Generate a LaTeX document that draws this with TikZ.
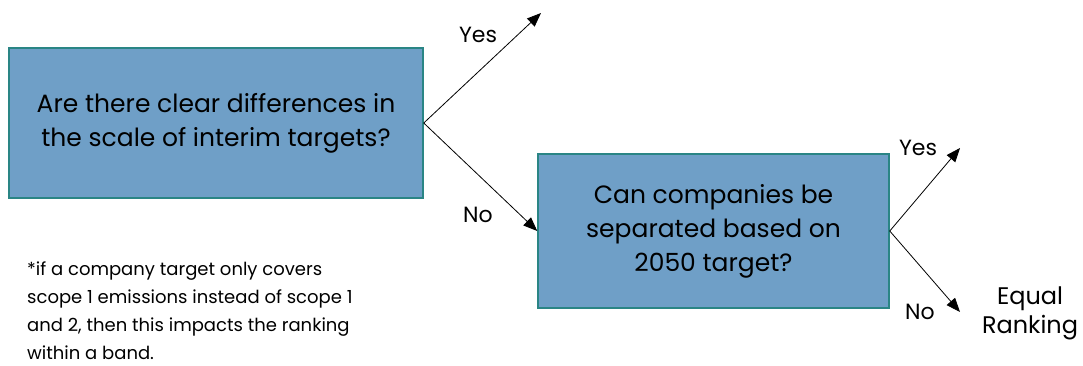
\documentclass[tikz,border=0pt]{standalone}
\usepackage{fontspec}
\setmainfont{Poppins}
\usetikzlibrary{arrows.meta,positioning}
\definecolor{boxfill}{HTML}{6F9FC7}
\definecolor{boxline}{HTML}{2A8585}

\begin{document}
\begin{tikzpicture}[x=1pt,y=-1pt,
		question/.style={draw=boxline,line width=1.5pt,fill=boxfill,align=center,
			inner sep=0pt,font=\fontsize{25}{34}\selectfont},
		branch/.style={-{Triangle[length=14pt,width=11pt]},line width=0.8pt},
		answer/.style={font=\fontsize{22}{29}\selectfont,align=center}]
			\useasboundingbox (0,0) rectangle (1083,365);
			% questions
			\node[question,minimum width=414pt,minimum height=150pt] (q1) at (216,123)
				{Are there clear differences in\\the scale of interim targets?};
			\node[question,minimum width=351pt,minimum height=154pt] (q2) at (713.5,231)
				{Can companies be\\separated based on\\2050 target?};
			% arrow ends
			\coordinate (yes1) at (541,13);
			\coordinate (yes2) at (960,148);
			\coordinate (no2) at (960,312);
			% branches
			\draw[branch] (q1.east) -- (yes1);
			\draw[branch] (q1.east) -- (q2.west);
			\draw[branch] (q2.east) -- (yes2);
			\draw[branch] (q2.east) -- (no2);
			% answers
			\node[answer] (lyes1) at (478,35) {Yes};
			\node[answer] (lno1) at (478,215) {No};
			\node[answer] (lyes2) at (918,148) {Yes};
			\node[answer] (lno2) at (920,312) {No};
			\node[answer,font=\fontsize{24}{29}\selectfont] (equal) at (1030,313) {Equal\\Ranking};
			% footnote
			\node[anchor=north west,align=left,inner sep=0pt,
				font=\fontsize{18}{28}\selectfont] (note) at (27,262)
				{*if a company target only covers\\scope 1 emissions instead of scope 1\\and 2, then this impacts the ranking\\within a band.};
		\end{tikzpicture}
\end{document}
